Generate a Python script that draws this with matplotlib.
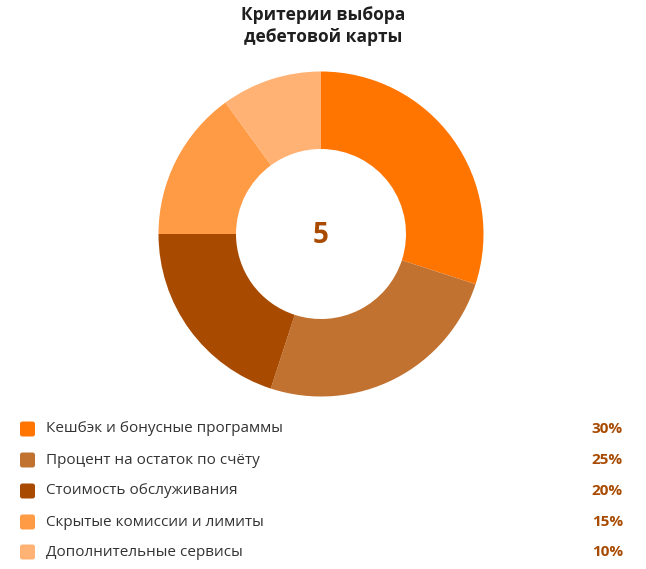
import matplotlib.pyplot as plt
from matplotlib.patches import FancyBboxPatch

plt.rcParams['font.family'] = ['Open Sans', 'DejaVu Sans']

labels = ['Кешбэк и бонусные программы', 'Процент на остаток по счёту',
          'Стоимость обслуживания', 'Скрытые комиссии и лимиты',
          'Дополнительные сервисы']
values = [30, 25, 20, 15, 10]
colors = ['#FF7500', '#C17230', '#A84A00', '#FF9A45', '#FFB273']

W, H = 646, 569
fig = plt.figure(figsize=(W / 100, H / 100), dpi=100)

fig.text(323 / W, 1 - 26 / H, 'Критерии выбора\nдебетовой карты', ha='center', va='center',
         fontsize=12.5, fontweight='bold', color='#1f1f1f', linespacing=1.35)

cx, cy, r = 321, 234, 162.5
ax = fig.add_axes([(cx - r) / W, 1 - (cy + r) / H, 2 * r / W, 2 * r / H])
ax.pie(values, colors=colors, startangle=90, counterclock=False,
       wedgeprops=dict(width=1 - 85 / 162.5, linewidth=0), radius=1)
ax.set_xlim(-1, 1)
ax.set_ylim(-1, 1)
ax.set_aspect('equal')
ax.axis('off')
ax.text(0, -0.01, str(len(values)), ha='center', va='center', fontsize=20,
        fontweight='bold', color='#A84A00')

rows_y = [429, 460, 491, 522, 552]
for lab, val, col, y in zip(labels, values, colors, rows_y):
    fig.patches.append(FancyBboxPatch(((20) / W, 1 - (y + 7.5) / H), 15 / W, 15 / H,
                                      boxstyle='round,pad=0,rounding_size=0.004',
                                      transform=fig.transFigure, facecolor=col,
                                      edgecolor='none'))
    fig.text(46 / W, 1 - y / H, lab, ha='left', va='center', fontsize=11, color='#333333')
    fig.text(623 / W, 1 - y / H, f'{val}%', ha='right', va='center', fontsize=11,
             fontweight='bold', color='#A84A00')

fig.savefig('out.png', dpi=100)
